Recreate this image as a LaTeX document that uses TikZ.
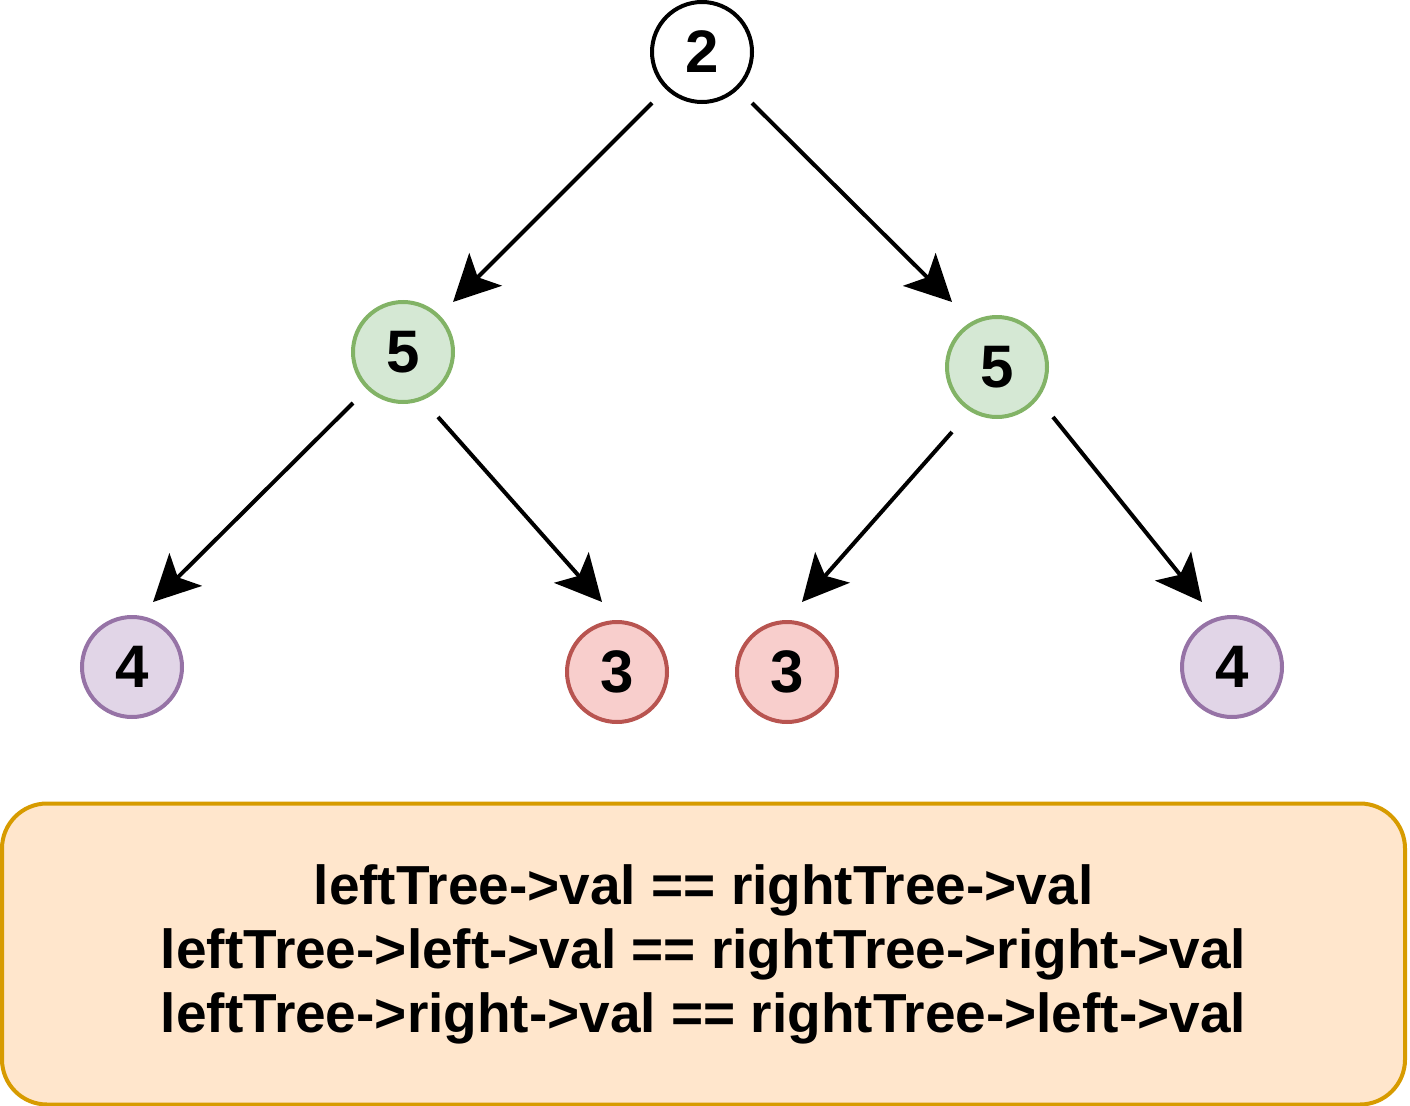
\documentclass[tikz,border=0pt]{standalone}
\usepackage{fontspec}
\setmainfont{Liberation Sans}
\usetikzlibrary{arrows.meta,calc}
\definecolor{greenfill}{HTML}{D5E8D4}
\definecolor{greenline}{HTML}{82B366}
\definecolor{redfill}{HTML}{F8CECC}
\definecolor{redline}{HTML}{B85450}
\definecolor{purplefill}{HTML}{E1D5E7}
\definecolor{purpleline}{HTML}{9673A6}
\definecolor{orangefill}{HTML}{FFE6CC}
\definecolor{orangeline}{HTML}{D79B00}
\tikzset{
  treenode/.style={circle, line width=4pt, minimum size=100pt, inner sep=0pt,
    font=\fontsize{60}{60}\selectfont\bfseries},
  whitenode/.style={treenode, draw=black, fill=white},
  greennode/.style={treenode, draw=greenline, fill=greenfill},
  rednode/.style={treenode, draw=redline, fill=redfill},
  purplenode/.style={treenode, draw=purpleline, fill=purplefill},
  edgearrow/.style={line width=4pt, -{Stealth[length=46pt,width=46pt,inset=11pt]}},
  notebox/.style={draw=orangeline, fill=orangefill, line width=4pt, rounded corners=45pt,
    minimum width=1403pt, minimum height=301pt, inner sep=0pt, align=center,
    font=\fontsize{55}{64}\selectfont\bfseries}
}
\begin{document}
\begin{tikzpicture}[x=1pt,y=-1pt]
\useasboundingbox (0,0) rectangle (1410,1105);
\node[whitenode] (n2) at (702,52) {2};
\node[greennode] (l5) at (403,352) {5};
\node[greennode] (r5) at (997,367) {5};
\node[purplenode] (l4) at (132,667) {4};
\node[rednode] (l3) at (617,672) {3};
\node[rednode] (r3) at (787,672) {3};
\node[purplenode] (r4) at (1232,667) {4};
\draw[edgearrow] ($(n2)+(-50,51)$) -- ($(l5)+(50,-50)$);
\draw[edgearrow] ($(n2)+(50,51)$) -- ($(r5)+(-45,-65)$);
\draw[edgearrow] ($(l5)+(-50,51)$) -- ($(l4)+(21,-65)$);
\draw[edgearrow] ($(l5)+(35,65)$) -- ($(l3)+(-15,-70)$);
\draw[edgearrow] ($(r5)+(-45,65)$) -- ($(r3)+(15,-70)$);
\draw[edgearrow] ($(r5)+(56,50)$) -- ($(r4)+(-30,-65)$);
\node[notebox] (note) at (703.5,954) {leftTree->val == rightTree->val\\leftTree->left->val == rightTree->right->val\\leftTree->right->val == rightTree->left->val};
\end{tikzpicture}
\end{document}
